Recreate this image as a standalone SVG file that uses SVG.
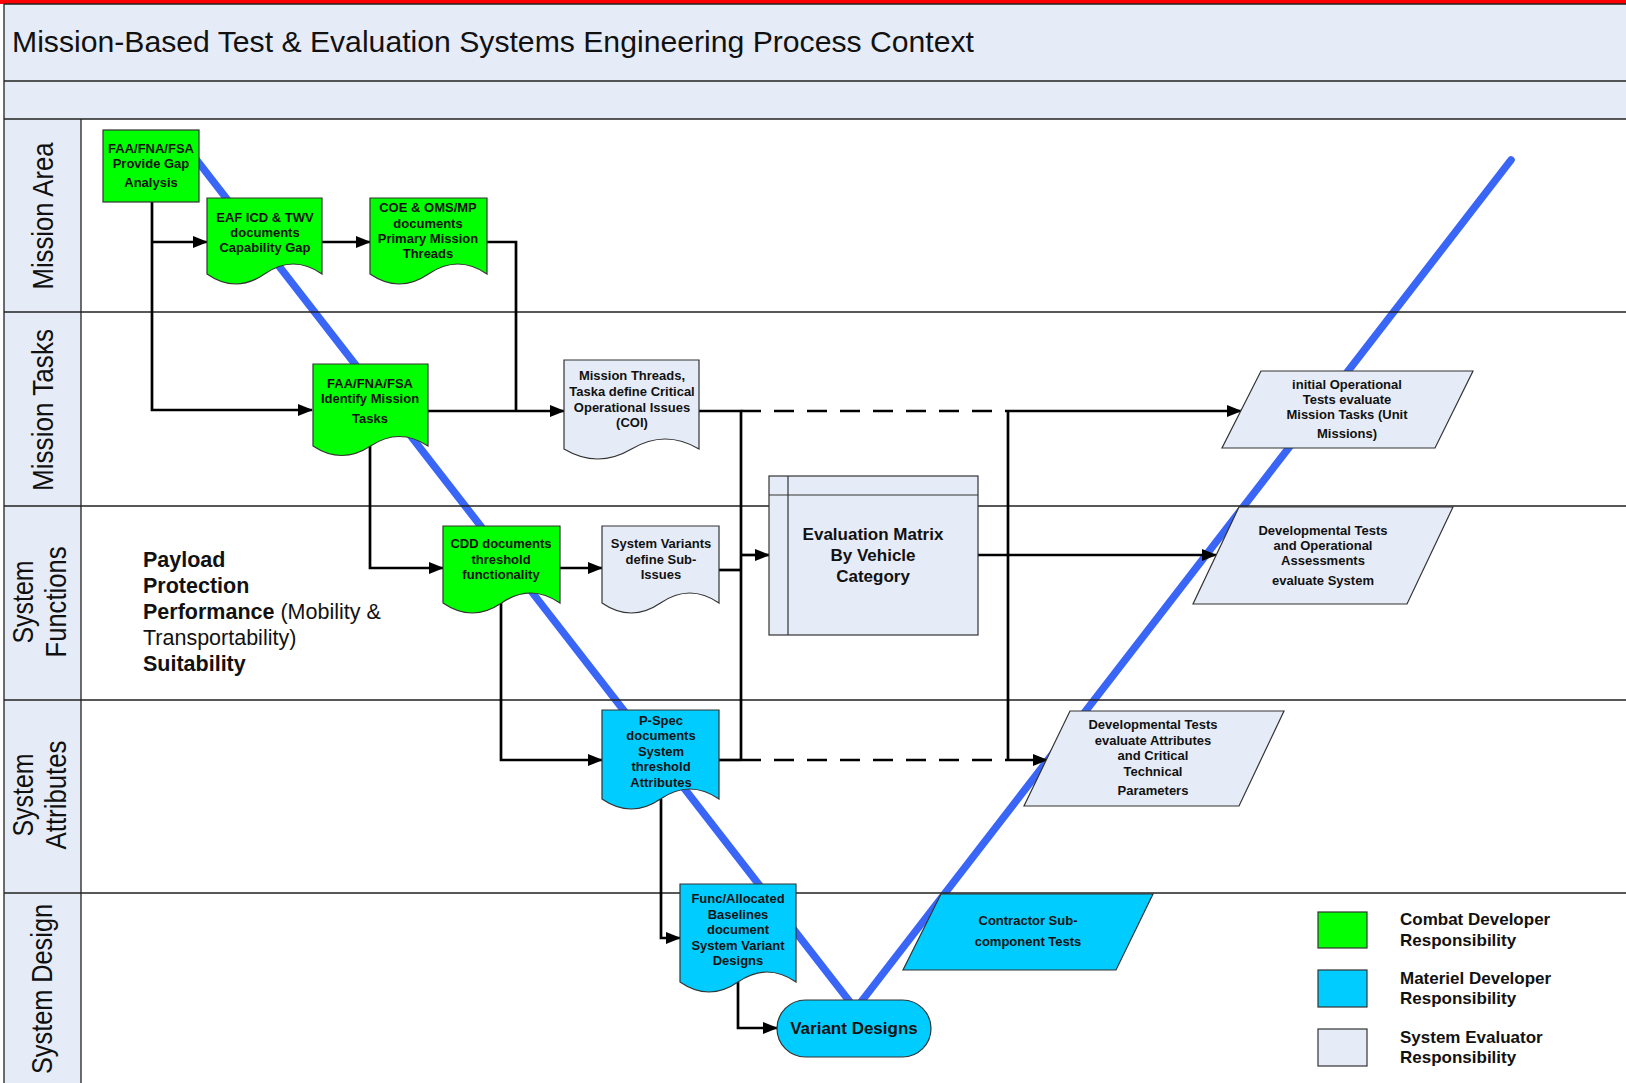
<svg xmlns="http://www.w3.org/2000/svg" width="1626" height="1083" viewBox="0 0 1626 1083">
  <defs>
    <marker id="arr" viewBox="0 0 15 12" refX="14" refY="6" markerWidth="15" markerHeight="12" markerUnits="userSpaceOnUse" orient="auto">
      <path d="M0,0 L15,6 L0,12 z" fill="#000"/>
    </marker>
    <style>
      .band { fill: #E6ECF7; }
      .lane { stroke: #222; stroke-width: 1.3; fill: none; }
      .hdr { font-family: "Liberation Sans", Arial, sans-serif; font-size: 29px; fill: #111; }
      .vee { stroke: #3A66F7; stroke-width: 7.5; fill: none; stroke-linecap: round; }
      .cn { stroke: #000; stroke-width: 2.7; fill: none; }
      .arrow { marker-end: url(#arr); }
      .dash { stroke-dasharray: 20 13; }
      .green { fill: #00FF00; stroke: #333; stroke-width: 1.2; }
      .cyan { fill: #00CCFF; stroke: #333; stroke-width: 1.2; }
      .grey { fill: #E6ECF7; stroke: #333; stroke-width: 1.2; }
      .t { font-family: "Liberation Sans", Arial, sans-serif; font-size: 13px; font-weight: bold; fill: #111; text-anchor: middle; }
      .tb { font-family: "Liberation Sans", Arial, sans-serif; font-size: 17px; font-weight: bold; fill: #111; text-anchor: middle; }
      .lg { font-family: "Liberation Sans", Arial, sans-serif; font-size: 17px; font-weight: bold; fill: #111; }
      .pl { font-family: "Liberation Sans", Arial, sans-serif; font-size: 21.5px; fill: #111; }
      .pl .b { font-weight: bold; }
    </style>
  </defs>

  <rect x="0" y="0" width="1626" height="1083" fill="#fff"/>

  <!-- header bands -->
  <rect class="band" x="4" y="4" width="1622" height="77"/>
  <rect class="band" x="4" y="81" width="1622" height="38"/>
  <rect x="0" y="0" width="1626" height="4" fill="#FF0000"/>
  <text x="12" y="52" font-family="Liberation Sans, Arial, sans-serif" font-size="30" fill="#111" textLength="962" lengthAdjust="spacingAndGlyphs">Mission-Based Test &amp; Evaluation Systems Engineering Process Context</text>

  <!-- lane header column -->
  <rect class="band" x="4" y="119" width="77" height="964"/>

  <!-- V model line -->
  <g id="vee">
    <path class="vee" d="M185,145 L850,1002"/>
    <path class="vee" d="M861,1002 L1511,160"/>
  </g>

  <!-- lane borders -->
  <g id="lanes">
    <path class="lane" d="M4,4 H1626 M4,81 H1626 M4,119 H1626 M4,312 H1626 M4,506 H1626 M4,700 H1626 M4,893 H1626"/>
    <path class="lane" d="M4,4 V1083 M81,119 V1083"/>
  </g>

  <!-- lane titles -->
  <g id="lane-titles" class="hdr">
    <text transform="rotate(-90)" x="-216" y="53" text-anchor="middle" textLength="147" lengthAdjust="spacingAndGlyphs">Mission Area</text>
    <text transform="rotate(-90)" x="-410" y="53" text-anchor="middle" textLength="162" lengthAdjust="spacingAndGlyphs">Mission Tasks</text>
    <text transform="rotate(-90)" x="-602" y="33" text-anchor="middle" textLength="83" lengthAdjust="spacingAndGlyphs">System</text>
    <text transform="rotate(-90)" x="-602" y="66" text-anchor="middle" textLength="111" lengthAdjust="spacingAndGlyphs">Functions</text>
    <text transform="rotate(-90)" x="-795" y="33" text-anchor="middle" textLength="83" lengthAdjust="spacingAndGlyphs">System</text>
    <text transform="rotate(-90)" x="-795" y="66" text-anchor="middle" textLength="109" lengthAdjust="spacingAndGlyphs">Attributes</text>
    <text transform="rotate(-90)" x="-989" y="52" text-anchor="middle" textLength="170" lengthAdjust="spacingAndGlyphs">System Design</text>
  </g>

  <!-- connectors -->
  <g id="connectors">
    <path class="cn arrow" d="M152,202 V410 H312"/>
    <path class="cn arrow" d="M152,242 H207"/>
    <path class="cn arrow" d="M322,242 H370"/>
    <path class="cn" d="M487,242 H516 V411"/>
    <path class="cn arrow" d="M428,411 H564"/>
    <path class="cn arrow" d="M370,446 V568 H443"/>
    <path class="cn arrow" d="M560,568 H602"/>
    <path class="cn arrow" d="M501,603 V760 H602"/>
    <path class="cn" d="M699,411 H741 V760"/>
    <path class="cn" d="M719,570 H741"/>
    <path class="cn arrow" d="M741,555 H769"/>
    <path class="cn dash" d="M741,411 H1008"/>
    <path class="cn arrow" d="M1008,411 H1241"/>
    <path class="cn" d="M1008,411 V760"/>
    <path class="cn" d="M719,760 H741"/>
    <path class="cn dash" d="M741,760 H1008"/>
    <path class="cn arrow" d="M1008,760 H1047"/>
    <path class="cn arrow" d="M978,555 H1216"/>
    <path class="cn arrow" d="M661,799 V938 H680"/>
    <path class="cn arrow" d="M738,982 V1028 H777"/>
  </g>

  <!-- nodes -->
  <g id="gap-analysis">
    <rect class="green" x="103" y="130" width="96" height="72"/>
    <text class="t"><tspan x="151" y="152.5">FAA/FNA/FSA</tspan><tspan x="151" y="167.5">Provide Gap</tspan><tspan x="151" y="187">Analysis</tspan></text>
  </g>

  <g id="icd-twv">
    <path class="green" d="M207,198 H322 V274 Q293.25,254 264.5,274 T207,274 Z"/>
    <text class="t"><tspan x="265" y="221.5">EAF ICD &amp; TWV</tspan><tspan x="265" y="236.5">documents</tspan><tspan x="265" y="251.5">Capability Gap</tspan></text>
  </g>

  <g id="coe-oms">
    <path class="green" d="M370,198 H487 V274 Q457.75,254 428.5,274 T370,274 Z"/>
    <text class="t"><tspan x="428" y="211.5">COE &amp; OMS/MP</tspan><tspan x="428" y="227.5">documents</tspan><tspan x="428" y="242.5">Primary Mission</tspan><tspan x="428" y="257.5">Threads</tspan></text>
  </g>

  <g id="mission-tasks">
    <path class="green" d="M313,364 H428 V446 Q399.25,427 370.5,446 T313,446 Z"/>
    <text class="t"><tspan x="370" y="387.5">FAA/FNA/FSA</tspan><tspan x="370" y="402.5">Identify Mission</tspan><tspan x="370" y="422.5">Tasks</tspan></text>
  </g>

  <g id="coi">
    <path class="grey" d="M564,360 H699 V449 Q665.25,429 631.5,449 T564,449 Z"/>
    <text class="t"><tspan x="632" y="379.5">Mission Threads,</tspan><tspan x="632" y="396">Taska define Critical</tspan><tspan x="632" y="411.5">Operational Issues</tspan><tspan x="632" y="426.5">(COI)</tspan></text>
  </g>

  <g id="cdd">
    <path class="green" d="M443,526 H560 V603 Q530.75,583 501.5,603 T443,603 Z"/>
    <text class="t"><tspan x="501" y="547.5">CDD documents</tspan><tspan x="501" y="563.5">threshold</tspan><tspan x="501" y="578.5">functionality</tspan></text>
  </g>

  <g id="sub-issues">
    <path class="grey" d="M602,526 H719 V603 Q689.75,583 660.5,603 T602,603 Z"/>
    <text class="t"><tspan x="661" y="547.5">System Variants</tspan><tspan x="661" y="563.5">define Sub-</tspan><tspan x="661" y="578.5">Issues</tspan></text>
  </g>

  <g id="eval-matrix">
    <rect class="grey" x="769" y="476" width="209" height="159"/>
    <path d="M788,476 V635 M769,495 H978" stroke="#333" stroke-width="1.2" fill="none"/>
    <text class="tb"><tspan x="873" y="540">Evaluation Matrix</tspan><tspan x="873" y="561">By Vehicle</tspan><tspan x="873" y="582">Category</tspan></text>
  </g>

  <g id="p-spec">
    <path class="cyan" d="M602,710 H719 V799 Q689.75,779 660.5,799 T602,799 Z"/>
    <text class="t"><tspan x="661" y="724.5">P-Spec</tspan><tspan x="661" y="740">documents</tspan><tspan x="661" y="755.5">System</tspan><tspan x="661" y="771">threshold</tspan><tspan x="661" y="786.5">Attributes</tspan></text>
  </g>

  <g id="baselines">
    <path class="cyan" d="M680,884 H796 V982 Q767,962 738,982 T680,982 Z"/>
    <text class="t"><tspan x="738" y="902.5">Func/Allocated</tspan><tspan x="738" y="918.5">Baselines</tspan><tspan x="738" y="933.5">document</tspan><tspan x="738" y="949.5">System Variant</tspan><tspan x="738" y="964.5">Designs</tspan></text>
  </g>

  <g id="variant-designs">
    <rect class="cyan" x="777" y="1000" width="154" height="57" rx="28.5" ry="28.5"/>
    <text class="tb" x="854" y="1034">Variant Designs</text>
  </g>

  <g id="contractor-tests">
    <polygon class="cyan" points="941,894 1153,894 1116,970 903,970"/>
    <text class="t"><tspan x="1028" y="925">Contractor Sub-</tspan><tspan x="1028" y="945.5">component Tests</tspan></text>
  </g>

  <g id="dt-attributes">
    <polygon class="grey" points="1070,711 1284,711 1239,806 1024,806"/>
    <text class="t"><tspan x="1153" y="728.5">Developmental Tests</tspan><tspan x="1153" y="744.5">evaluate Attributes</tspan><tspan x="1153" y="759.5">and Critical</tspan><tspan x="1153" y="775.5">Technical</tspan><tspan x="1153" y="794.5">Parameters</tspan></text>
  </g>

  <g id="dt-oa">
    <polygon class="grey" points="1239,507 1453,507 1407,604 1193,604"/>
    <text class="t"><tspan x="1323" y="534.5">Developmental Tests</tspan><tspan x="1323" y="549.5">and Operational</tspan><tspan x="1323" y="564.5">Assessments</tspan><tspan x="1323" y="584.5">evaluate System</tspan></text>
  </g>

  <g id="iot">
    <polygon class="grey" points="1261,371 1473,371 1435,448 1222,448"/>
    <text class="t"><tspan x="1347" y="388.5">initial Operational</tspan><tspan x="1347" y="403.5">Tests evaluate</tspan><tspan x="1347" y="418.5">Mission Tasks (Unit</tspan><tspan x="1347" y="437.5">Missions)</tspan></text>
  </g>

  <!-- evaluation focus list -->
  <g id="focus-list">
    <text class="pl" x="143" y="567"><tspan class="b">Payload</tspan></text>
    <text class="pl" x="143" y="593"><tspan class="b">Protection</tspan></text>
    <text class="pl" x="143" y="619"><tspan class="b">Performance</tspan> (Mobility &amp;</text>
    <text class="pl" x="143" y="645">Transportability)</text>
    <text class="pl" x="143" y="671"><tspan class="b">Suitability</tspan></text>
  </g>

  <!-- legend -->
  <g id="legend">
    <rect class="green" x="1318" y="912" width="49" height="36"/>
    <rect class="cyan" x="1318" y="970" width="49" height="37"/>
    <rect class="grey" x="1318" y="1029" width="49" height="37"/>
    <text class="lg"><tspan x="1400" y="925">Combat Developer</tspan><tspan x="1400" y="946">Responsibility</tspan></text>
    <text class="lg"><tspan x="1400" y="984">Materiel Developer</tspan><tspan x="1400" y="1004">Responsibility</tspan></text>
    <text class="lg"><tspan x="1400" y="1043">System Evaluator</tspan><tspan x="1400" y="1063">Responsibility</tspan></text>
  </g>
</svg>
